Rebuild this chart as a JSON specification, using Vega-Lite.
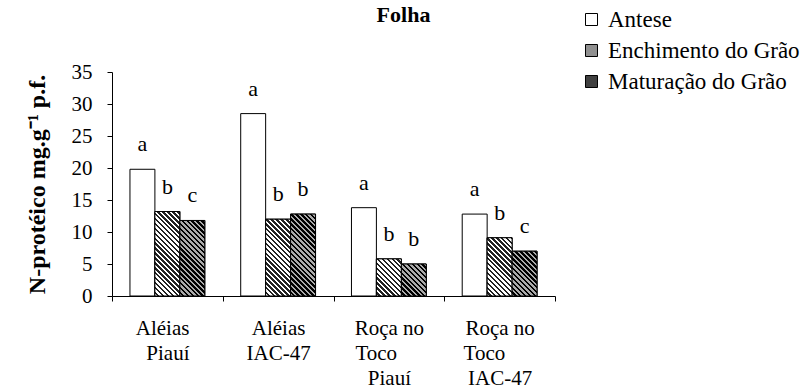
{
  "$schema": "https://vega.github.io/schema/vega-lite/v6.json",
  "width": 443,
  "height": 224,
  "autosize": {"type": "none"},
  "padding": {"left": 112, "top": 72, "right": 255, "bottom": 94},
  "background": "white",
  "config": {
    "view": {"stroke": null},
    "font": "Liberation Serif",
    "style": {"guide-label": {"font": "Liberation Serif", "fill": "black"}, "guide-title": {"font": "Liberation Serif", "fill": "black"}, "group-title": {"font": "Liberation Serif"}},
    "axis": {"grid": false, "domainColor": "black", "tickColor": "black", "labelColor": "black", "titleColor": "black", "labelFont": "Liberation Serif", "titleFont": "Liberation Serif", "domainWidth": 1, "tickWidth": 1},
    "legend": {"labelFont": "Liberation Serif", "titleFont": "Liberation Serif"}
  },
  "params": [
    {"name": "stopsE", "value": [
      {"offset":0,"color":"#fff"},{"offset":0.0217,"color":"#fff"},{"offset":0.0217,"color":"#222"},{"offset":0.0435,"color":"#222"},
      {"offset":0.0435,"color":"#fff"},{"offset":0.0652,"color":"#fff"},{"offset":0.0652,"color":"#222"},{"offset":0.087,"color":"#222"},
      {"offset":0.087,"color":"#fff"},{"offset":0.1087,"color":"#fff"},{"offset":0.1087,"color":"#222"},{"offset":0.1304,"color":"#222"},
      {"offset":0.1304,"color":"#fff"},{"offset":0.1522,"color":"#fff"},{"offset":0.1522,"color":"#222"},{"offset":0.1739,"color":"#222"},
      {"offset":0.1739,"color":"#fff"},{"offset":0.1957,"color":"#fff"},{"offset":0.1957,"color":"#222"},{"offset":0.2174,"color":"#222"},
      {"offset":0.2174,"color":"#fff"},{"offset":0.2391,"color":"#fff"},{"offset":0.2391,"color":"#222"},{"offset":0.2609,"color":"#222"},
      {"offset":0.2609,"color":"#fff"},{"offset":0.2826,"color":"#fff"},{"offset":0.2826,"color":"#222"},{"offset":0.3043,"color":"#222"},
      {"offset":0.3043,"color":"#fff"},{"offset":0.3261,"color":"#fff"},{"offset":0.3261,"color":"#222"},{"offset":0.3478,"color":"#222"},
      {"offset":0.3478,"color":"#fff"},{"offset":0.3696,"color":"#fff"},{"offset":0.3696,"color":"#222"},{"offset":0.3913,"color":"#222"},
      {"offset":0.3913,"color":"#fff"},{"offset":0.413,"color":"#fff"},{"offset":0.413,"color":"#222"},{"offset":0.4348,"color":"#222"},
      {"offset":0.4348,"color":"#fff"},{"offset":0.4565,"color":"#fff"},{"offset":0.4565,"color":"#222"},{"offset":0.4783,"color":"#222"},
      {"offset":0.4783,"color":"#fff"},{"offset":0.5,"color":"#fff"},{"offset":0.5,"color":"#222"},{"offset":0.5217,"color":"#222"},
      {"offset":0.5217,"color":"#fff"},{"offset":0.5435,"color":"#fff"},{"offset":0.5435,"color":"#222"},{"offset":0.5652,"color":"#222"},
      {"offset":0.5652,"color":"#fff"},{"offset":0.587,"color":"#fff"},{"offset":0.587,"color":"#222"},{"offset":0.6087,"color":"#222"},
      {"offset":0.6087,"color":"#fff"},{"offset":0.6304,"color":"#fff"},{"offset":0.6304,"color":"#222"},{"offset":0.6522,"color":"#222"},
      {"offset":0.6522,"color":"#fff"},{"offset":0.6739,"color":"#fff"},{"offset":0.6739,"color":"#222"},{"offset":0.6957,"color":"#222"},
      {"offset":0.6957,"color":"#fff"},{"offset":0.7174,"color":"#fff"},{"offset":0.7174,"color":"#222"},{"offset":0.7391,"color":"#222"},
      {"offset":0.7391,"color":"#fff"},{"offset":0.7609,"color":"#fff"},{"offset":0.7609,"color":"#222"},{"offset":0.7826,"color":"#222"},
      {"offset":0.7826,"color":"#fff"},{"offset":0.8043,"color":"#fff"},{"offset":0.8043,"color":"#222"},{"offset":0.8261,"color":"#222"},
      {"offset":0.8261,"color":"#fff"},{"offset":0.8478,"color":"#fff"},{"offset":0.8478,"color":"#222"},{"offset":0.8696,"color":"#222"},
      {"offset":0.8696,"color":"#fff"},{"offset":0.8913,"color":"#fff"},{"offset":0.8913,"color":"#222"},{"offset":0.913,"color":"#222"},
      {"offset":0.913,"color":"#fff"},{"offset":0.9348,"color":"#fff"},{"offset":0.9348,"color":"#222"},{"offset":0.9565,"color":"#222"},
      {"offset":0.9565,"color":"#fff"},{"offset":0.9783,"color":"#fff"},{"offset":0.9783,"color":"#222"},{"offset":1,"color":"#222"}
    ]},
    {"name": "stopsM", "value": [
      {"offset":0,"color":"#aaa"},{"offset":0.0217,"color":"#aaa"},{"offset":0.0217,"color":"#000"},{"offset":0.0435,"color":"#000"},
      {"offset":0.0435,"color":"#aaa"},{"offset":0.0652,"color":"#aaa"},{"offset":0.0652,"color":"#000"},{"offset":0.087,"color":"#000"},
      {"offset":0.087,"color":"#aaa"},{"offset":0.1087,"color":"#aaa"},{"offset":0.1087,"color":"#000"},{"offset":0.1304,"color":"#000"},
      {"offset":0.1304,"color":"#aaa"},{"offset":0.1522,"color":"#aaa"},{"offset":0.1522,"color":"#000"},{"offset":0.1739,"color":"#000"},
      {"offset":0.1739,"color":"#aaa"},{"offset":0.1957,"color":"#aaa"},{"offset":0.1957,"color":"#000"},{"offset":0.2174,"color":"#000"},
      {"offset":0.2174,"color":"#aaa"},{"offset":0.2391,"color":"#aaa"},{"offset":0.2391,"color":"#000"},{"offset":0.2609,"color":"#000"},
      {"offset":0.2609,"color":"#aaa"},{"offset":0.2826,"color":"#aaa"},{"offset":0.2826,"color":"#000"},{"offset":0.3043,"color":"#000"},
      {"offset":0.3043,"color":"#aaa"},{"offset":0.3261,"color":"#aaa"},{"offset":0.3261,"color":"#000"},{"offset":0.3478,"color":"#000"},
      {"offset":0.3478,"color":"#aaa"},{"offset":0.3696,"color":"#aaa"},{"offset":0.3696,"color":"#000"},{"offset":0.3913,"color":"#000"},
      {"offset":0.3913,"color":"#aaa"},{"offset":0.413,"color":"#aaa"},{"offset":0.413,"color":"#000"},{"offset":0.4348,"color":"#000"},
      {"offset":0.4348,"color":"#aaa"},{"offset":0.4565,"color":"#aaa"},{"offset":0.4565,"color":"#000"},{"offset":0.4783,"color":"#000"},
      {"offset":0.4783,"color":"#aaa"},{"offset":0.5,"color":"#aaa"},{"offset":0.5,"color":"#000"},{"offset":0.5217,"color":"#000"},
      {"offset":0.5217,"color":"#aaa"},{"offset":0.5435,"color":"#aaa"},{"offset":0.5435,"color":"#000"},{"offset":0.5652,"color":"#000"},
      {"offset":0.5652,"color":"#aaa"},{"offset":0.587,"color":"#aaa"},{"offset":0.587,"color":"#000"},{"offset":0.6087,"color":"#000"},
      {"offset":0.6087,"color":"#aaa"},{"offset":0.6304,"color":"#aaa"},{"offset":0.6304,"color":"#000"},{"offset":0.6522,"color":"#000"},
      {"offset":0.6522,"color":"#aaa"},{"offset":0.6739,"color":"#aaa"},{"offset":0.6739,"color":"#000"},{"offset":0.6957,"color":"#000"},
      {"offset":0.6957,"color":"#aaa"},{"offset":0.7174,"color":"#aaa"},{"offset":0.7174,"color":"#000"},{"offset":0.7391,"color":"#000"},
      {"offset":0.7391,"color":"#aaa"},{"offset":0.7609,"color":"#aaa"},{"offset":0.7609,"color":"#000"},{"offset":0.7826,"color":"#000"},
      {"offset":0.7826,"color":"#aaa"},{"offset":0.8043,"color":"#aaa"},{"offset":0.8043,"color":"#000"},{"offset":0.8261,"color":"#000"},
      {"offset":0.8261,"color":"#aaa"},{"offset":0.8478,"color":"#aaa"},{"offset":0.8478,"color":"#000"},{"offset":0.8696,"color":"#000"},
      {"offset":0.8696,"color":"#aaa"},{"offset":0.8913,"color":"#aaa"},{"offset":0.8913,"color":"#000"},{"offset":0.913,"color":"#000"},
      {"offset":0.913,"color":"#aaa"},{"offset":0.9348,"color":"#aaa"},{"offset":0.9348,"color":"#000"},{"offset":0.9565,"color":"#000"},
      {"offset":0.9565,"color":"#aaa"},{"offset":0.9783,"color":"#aaa"},{"offset":0.9783,"color":"#000"},{"offset":1,"color":"#000"}
    ]}
  ],
  "title": {"text": "Folha", "font": "Liberation Serif", "fontSize": 22, "fontWeight": "bold", "color": "black", "anchor": "middle", "frame": "group", "dx": 70, "offset": -36, "baseline": "alphabetic"},
  "data": {"values": [
    {"c": "Aléias Piauí", "s": "Antese", "v": 19.8, "l": "a"},
    {"c": "Aléias Piauí", "s": "Enchimento do Grão", "v": 13.2, "l": "b"},
    {"c": "Aléias Piauí", "s": "Maturação do Grão", "v": 11.8, "l": "c"},
    {"c": "Aléias IAC-47", "s": "Antese", "v": 28.5, "l": "a"},
    {"c": "Aléias IAC-47", "s": "Enchimento do Grão", "v": 12.0, "l": "b"},
    {"c": "Aléias IAC-47", "s": "Maturação do Grão", "v": 12.8, "l": "b"},
    {"c": "Roça no Toco Piauí", "s": "Antese", "v": 13.8, "l": "a"},
    {"c": "Roça no Toco Piauí", "s": "Enchimento do Grão", "v": 5.8, "l": "b"},
    {"c": "Roça no Toco Piauí", "s": "Maturação do Grão", "v": 5.0, "l": "b"},
    {"c": "Roça no Toco IAC-47", "s": "Antese", "v": 12.8, "l": "a"},
    {"c": "Roça no Toco IAC-47", "s": "Enchimento do Grão", "v": 9.1, "l": "b"},
    {"c": "Roça no Toco IAC-47", "s": "Maturação do Grão", "v": 7.0, "l": "c"}
  ]},
  "encoding": {
    "x": {
      "field": "c", "type": "nominal",
      "sort": ["Aléias Piauí", "Aléias IAC-47", "Roça no Toco Piauí", "Roça no Toco IAC-47"],
      "scale": {"paddingInner": 0, "paddingOuter": 0},
      "axis": {
        "title": null, "labelAngle": 0, "tickBand": "extent", "labelAlign": "center",
        "tickSize": 5, "labelPadding": 16, "labelFont": "Liberation Serif", "labelFontSize": 21, "labelLineHeight": 25, "labelBaseline": "top", "labelColor": "black",
        "labelExpr": "datum.value === 'Aléias Piauí' ? ['Aléias\u00a0\u00a0\u200b', 'Piauí'] : datum.value === 'Aléias IAC-47' ? ['Aléias', 'IAC-47'] : datum.value === 'Roça no Toco Piauí' ? ['Roça no', 'Toco\u00a0\u00a0\u00a0\u00a0\u00a0\u200b', 'Piauí'] : datum.value === 'Roça no Toco IAC-47' ? ['Roça no', 'Toco\u00a0\u00a0\u00a0\u00a0\u00a0\u00a0\u200b', 'IAC-47'] : ''"
      }
    },
    "xOffset": {
      "field": "s", "type": "nominal",
      "sort": ["Antese", "Enchimento do Grão", "Maturação do Grão"],
      "scale": {"paddingInner": 0, "paddingOuter": 0.72}
    },
    "y": {
      "field": "v", "type": "quantitative", "stack": null,
      "scale": {"domain": [0, 35], "nice": false, "zero": true},
      "axis": {
        "title": "N-protéico mg.g⁻¹ p.f.", "titleFont": "Liberation Serif", "titleFontSize": 24, "titleFontWeight": "bold", "titlePadding": 22, "titleColor": "black",
        "values": [0, 5, 10, 15, 20, 25, 30, 35], "tickSize": 5, "labelPadding": 15, "labelFont": "Liberation Serif", "labelFontSize": 21, "labelColor": "black"
      }
    }
  },
  "layer": [
    {
      "mark": {"type": "bar", "stroke": "black", "strokeWidth": 1},
      "encoding": {
        "color": {
          "field": "s", "type": "nominal",
          "scale": {"domain": ["Antese", "Enchimento do Grão", "Maturação do Grão"], "range": ["#ffffff", "#909090", "#404040"]},
          "legend": {
            "title": null, "orient": "none", "legendX": 468, "legendY": -64, "padding": 0,
            "symbolType": "square", "symbolSize": 144, "symbolStrokeColor": "black", "symbolStrokeWidth": 1,
            "labelFontSize": 23, "labelFont": "Liberation Serif", "labelColor": "black", "labelOffset": 5, "rowPadding": 7, "labelLimit": 400,
            "encode": {
              "labels": {"update": {"font": {"value": "Liberation Serif"}}},
              "symbols": {"update": {
                "fill": {"signal": "datum.value === 'Antese' ? '#ffffff' : {gradient: 'linear', x1: 0, y1: 1, x2: 4.714, y2: -3.714, stops: datum.value === 'Enchimento do Grão' ? stopsE : stopsM}"},
                "stroke": {"value": "black"}, "strokeWidth": {"value": 1}, "opacity": {"value": 1}, "fillOpacity": {"value": 1}
              }}
            }
          }
        }
      }
    },
    {
      "transform": [{"filter": "datum.s !== 'Antese'"}],
      "mark": {
        "type": "bar", "stroke": "black", "strokeWidth": 1,
        "fill": {"expr": "{gradient: 'linear', x1: 0, y1: 1, x2: bandwidth('xOffset') * 113.137 / (pow(bandwidth('xOffset'), 2) + pow(scale('y', 0) - scale('y', datum.v), 2)), y2: 1 - (scale('y', 0) - scale('y', datum.v)) * 113.137 / (pow(bandwidth('xOffset'), 2) + pow(scale('y', 0) - scale('y', datum.v), 2)), stops: datum.s === 'Enchimento do Grão' ? stopsE : stopsM}"}
      }
    },
    {
      "mark": {"type": "text", "dy": -18, "baseline": "alphabetic", "fontSize": 22, "font": "Liberation Serif", "color": "black"},
      "encoding": {"text": {"field": "l"}}
    }
  ]
}
